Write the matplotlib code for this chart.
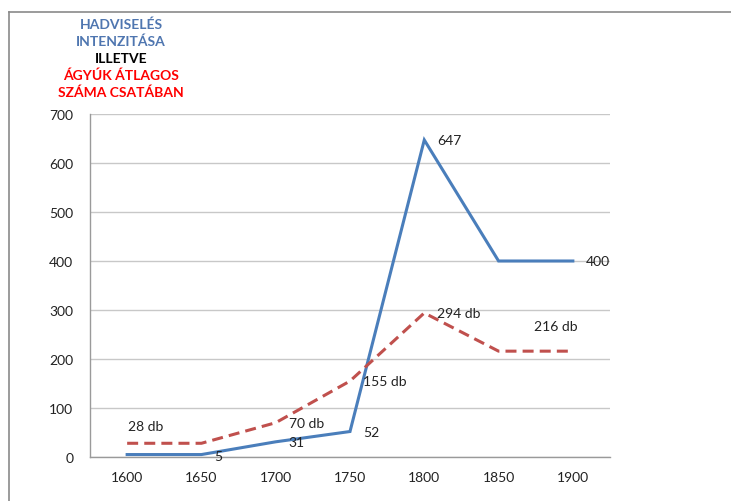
import matplotlib
matplotlib.use("Agg")
import matplotlib.pyplot as plt
from matplotlib.lines import Line2D

years = ["1600", "1650", "1700", "1750", "1800", "1850", "1900"]
intensity = [5, 5, 31, 52, 647, 400, 400]
cannons = [28, 28, 70, 155, 294, 216, 216]

# which points carry a label, and where (offset in pixels from the point)
intensity_labels = {1: (13, -1), 2: (13, 0), 3: (13, 0), 4: (13, 0), 6: (13, 0)}
cannon_labels = {0: (1, 17), 2: (13, 0), 3: (13, 0), 4: (13, 0), 6: (-39, 25)}

title_lines = [
    ("HADVISELÉS", "#4F76B0"),
    ("INTENZITÁSA", "#4F76B0"),
    ("ILLETVE", "black"),
    ("ÁGYÚK ÁTLAGOS", "#FF0000"),
    ("SZÁMA CSATÁBAN", "#FF0000"),
]

plt.rcParams["font.family"] = ["Lato", "DejaVu Sans"]

fig = plt.figure(figsize=(7.31, 5.02), dpi=100)
ax = fig.add_axes([90 / 731, 44 / 502, 520 / 731, 343 / 502])

x = list(range(len(years)))
ax.plot(x, intensity, color="#4A7EBB", lw=2.2, solid_joinstyle="miter", zorder=3)
ax.plot(x, cannons, color="#C0504D", lw=2.2, dashes=(3.6, 2.0), zorder=3)

for i, (dx, dy) in intensity_labels.items():
    ax.annotate(str(intensity[i]), (x[i], intensity[i]), xytext=(dx, dy),
                textcoords="offset pixels", ha="left", va="center",
                fontsize=10, color="#222222")
for i, (dx, dy) in cannon_labels.items():
    ax.annotate(f"{cannons[i]} db", (x[i], cannons[i]), xytext=(dx, dy),
                textcoords="offset pixels", ha="left", va="center",
                fontsize=10, color="#222222")

ax.set_xlim(-0.5, len(years) - 0.5)
ax.set_ylim(0, 700)
ax.set_yticks(range(0, 701, 100))
ax.set_xticks(x)
ax.set_xticklabels(years)
ax.tick_params(length=0, labelsize=10, colors="#222222")
ax.tick_params(axis="y", pad=12)
ax.tick_params(axis="x", pad=10)
ax.grid(axis="y", color="#C8C8C8", lw=1)
ax.set_axisbelow(True)
for s in ("top", "right"):
    ax.spines[s].set_visible(False)
for s in ("left", "bottom"):
    ax.spines[s].set_color("#9A9A9A")
    ax.spines[s].set_linewidth(1)

for k, (txt, col) in enumerate(title_lines):
    fig.text(121 / 731, 1 - (25 + 17 * k) / 502, txt, color=col,
             fontsize=10, fontweight="bold", ha="center", va="center")

# outer frame (left and top edges only)
fig.add_artist(Line2D([9 / 731, 9 / 731], [0, 1 - 13 / 502],
                      transform=fig.transFigure, color="#8A8A8A", lw=1.2))
fig.add_artist(Line2D([9 / 731, 1], [1 - 13 / 502, 1 - 13 / 502],
                      transform=fig.transFigure, color="#8A8A8A", lw=1.2))

fig.savefig("out.png", dpi=100)
